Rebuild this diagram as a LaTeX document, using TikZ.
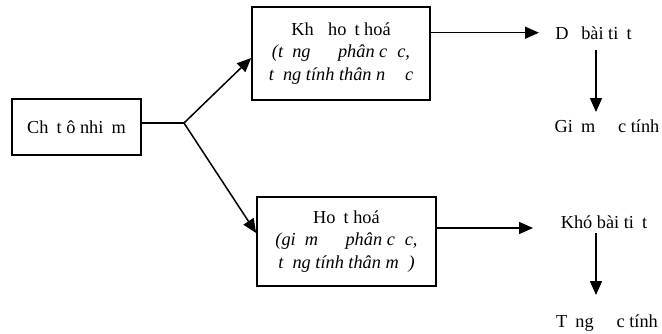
\documentclass[tikz,border=0pt]{standalone}
\usepackage{fontspec}
\setmainfont{Liberation Serif}
\usetikzlibrary{arrows.meta}

% blank slot the width of a given glyph
\newcommand{\gp}[1]{\phantom{#1}}

\begin{document}
\begin{tikzpicture}[x=1pt,y=-1pt,
  txt/.style={font=\fontsize{18.3}{22.5}\selectfont, inner sep=0pt},
  box/.style={draw, line width=1.7pt, align=center, inner sep=0pt,
              font=\fontsize{18.3}{22.5}\selectfont},
  arr/.style={line width=1.5pt, -{Triangle[length=14pt,width=12pt]}},
  ln/.style={line width=1.5pt}]
\useasboundingbox (0,0) rectangle (662,333);

% source box and the two treatment boxes
\node[box, minimum width=129pt, minimum height=56pt] (src) at (76.5,127)
  {Ch\gp{ấ}t ô nhi\gp{ễ}m};
\node[box, minimum width=178pt, minimum height=93pt] (up) at (341,53.5)
  {Kh\gp{ử} ho\gp{ạ}t hoá\\
   \textit{(t\gp{ă}ng \gp{độ} phân c\gp{ự}c,}\\
   \textit{t\gp{ă}ng tính thân n\gp{ướ}c}};
\node[box, minimum width=179pt, minimum height=89pt] (lo) at (346.5,241.5)
  {Ho\gp{ạ}t hoá\\
   \textit{(gi\gp{ả}m \gp{độ} phân c\gp{ự}c,}\\
   \textit{t\gp{ă}ng tính thân m\gp{ỡ})}};

% outcomes
\node[txt] (d)  at (593.5,33)  {D\gp{ễ} bài ti\gp{ế}t};
\node[txt] (g)  at (607,128)   {Gi\gp{ả}m \gp{độ}c tính};
\node[txt] (k)  at (604,222)   {Khó bài ti\gp{ế}t};
\node[txt] (t)  at (607,323)   {T\gp{ă}ng \gp{độ}c tính};

% fork point and arrow ends
\coordinate (br) at (184,123);
\coordinate (din) at (539,32.7);
\coordinate (kin) at (533,228);
\coordinate (d1) at (596,50);
\coordinate (d2) at (596,112);
\coordinate (k1) at (596,233);
\coordinate (k2) at (596,295);

\draw[ln] (src.east |- br) -- (br);
\draw[arr] (br) -- ([yshift=-4.5pt]up.west);
\draw[arr] (br) -- ([yshift=8.5pt]lo.west);
\draw[arr] (up.east |- din) -- (din);
\draw[arr] (lo.east |- kin) -- (kin);
\draw[arr] (d1) -- (d2);
\draw[arr] (k1) -- (k2);
\end{tikzpicture}
\end{document}
